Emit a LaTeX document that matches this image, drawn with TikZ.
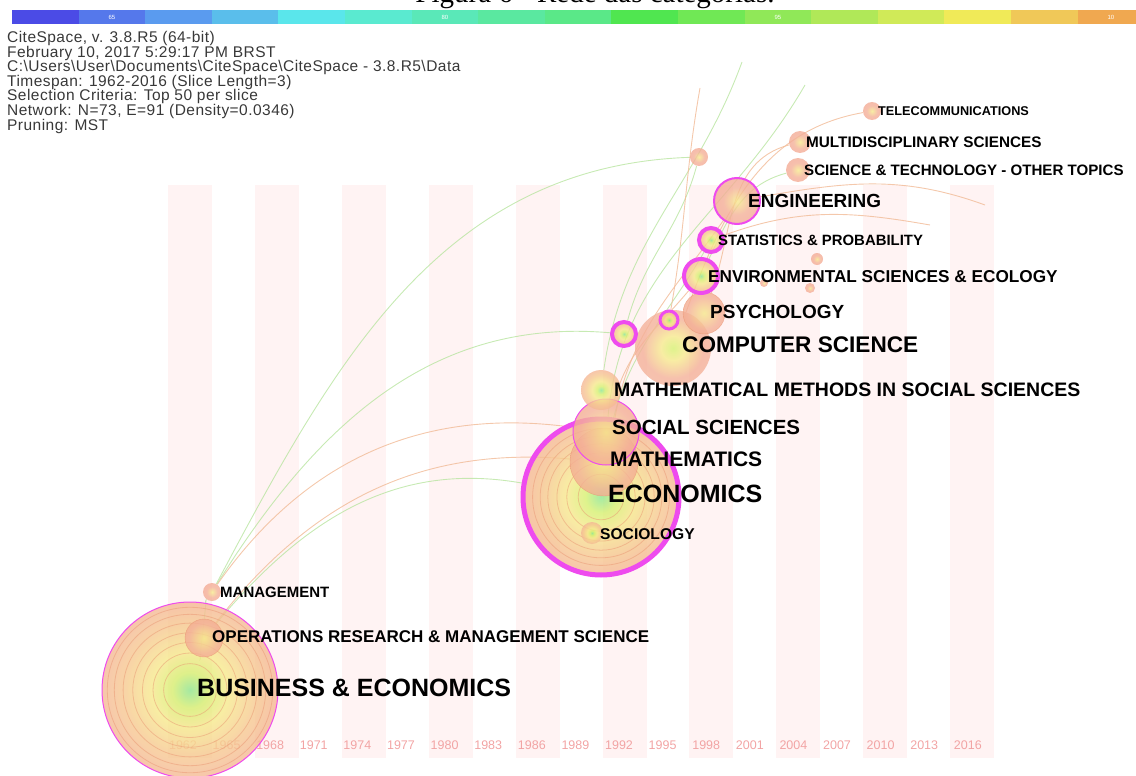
\documentclass[tikz,border=0pt]{standalone}
\usepackage{fontspec}
\setmainfont{Liberation Sans}
\newfontfamily\capfont{Liberation Serif}
\newfontfamily\infofont[LetterSpace=3]{Liberation Sans}
\usetikzlibrary{positioning}

\definecolor{bandpink}{HTML}{FFF3F3}
\definecolor{yearpink}{HTML}{F2A4A4}
\definecolor{hubpink}{HTML}{EE4BEE}
\definecolor{ringline}{HTML}{E8906E}
\definecolor{infogray}{HTML}{383838}
\definecolor{linkgreen}{HTML}{BDE6A6}
\definecolor{linkorange}{HTML}{F2BE9C}
\definecolor{ngreen}{HTML}{8EE68E}
\definecolor{nlime}{HTML}{D6F070}
\definecolor{nyellow}{HTML}{F6E88C}
\definecolor{namber}{HTML}{F6C890}
\definecolor{npeach}{HTML}{F4B098}
\definecolor{nsalmon}{HTML}{F2A090}
\definecolor{nrose}{HTML}{F5B5A8}
\definecolor{norange}{HTML}{F0A070}
\definecolor{npale}{HTML}{F6BCAA}

\pgfdeclareradialshading{treering}{\pgfpoint{0bp}{0bp}}{color(0bp)=(ngreen); color(5bp)=(nlime); color(11bp)=(nyellow); color(19bp)=(namber); color(28bp)=(npeach); color(40bp)=(nsalmon); color(50bp)=(nrose)}
\pgfdeclareradialshading{peachring}{\pgfpoint{0bp}{0bp}}{color(0bp)=(nyellow); color(15bp)=(npeach); color(50bp)=(nsalmon)}
\pgfdeclareradialshading{orangering}{\pgfpoint{0bp}{0bp}}{color(0bp)=(nyellow); color(20bp)=(npeach); color(50bp)=(norange)}
\pgfdeclareradialshading{paleing}{\pgfpoint{0bp}{0bp}}{color(0bp)=(nlime); color(8bp)=(nyellow); color(20bp)=(npeach); color(50bp)=(npale)}

\pgfdeclarelayer{bg}
\pgfsetlayers{bg,main}

\newcommand\fsz[1]{\fontsize{#1}{#1}\selectfont}

\begin{document}
\begin{tikzpicture}[x=1pt,y=-1pt,
    cat/.style={circle,inner sep=0pt,shade,shading=treering,fill opacity=0.8,minimum size=#1},
    catp/.style={cat=#1,shading=peachring},
    cato/.style={cat=#1,shading=orangering,draw=ringline,draw opacity=0.6},
    hub/.style={draw=hubpink,draw opacity=1,line width=#1},
    ring/.style={ringline,line width=0.8pt,opacity=0.45},
    lbl/.style={inner sep=0pt,anchor=west,text=black,font=\bfseries\fsz{#1}},
    yearlbl/.style={text=yearpink,font=\fsz{12.5}},
    info/.style={anchor=base west,inner sep=0pt,text=infogray,font=\infofont\fsz{15.5}},
    linkg/.style={linkgreen,line width=0.9pt,opacity=0.85},
    linko/.style={linkorange,line width=0.9pt,opacity=0.85}]
  \useasboundingbox (0,0) rectangle (1136,776);
  \clip (0,0) rectangle (1136,776);

  % time slices
  \begin{pgfonlayer}{bg}
    \foreach \k in {0,...,9}
      \fill[bandpink] (168+86.9*\k,185) rectangle ++(44,573);
    \foreach \yr [count=\i from 0] in {1962,1965,...,2016}
      \node[yearlbl] (y\yr) at (183+43.6*\i,745) {\yr};
  \end{pgfonlayer}

  % categories
  \node[cat=176,hub=1pt] (bus) at (190,690) {};
  \foreach \f in {0.3,0.42,0.54,0.65,0.76,0.86,0.94}
    \draw[ring] (bus.center) circle[radius=\f*88];
  \node[cato=38] (ops) at (204,638) {};
  \node[catp=18] (mgmt) at (212,592) {};

  \node[cat=156,hub=5pt] (econ) at (601,497) {};
  \foreach \f in {0.3,0.45,0.58,0.7,0.8,0.9}
    \draw[ring] (econ.center) circle[radius=\f*76];
  \node[cato=68] (math) at (604,462) {};
  \node[cato=66,hub=1pt] (soc) at (606,432) {};
  \node[cat=40] (mmss) at (601,390) {};
  \node[cat=22] (socio) at (592,533) {};

  \node[cat=76,shading=paleing] (comp) at (673,348) {};
  \node[cat=24,hub=4pt] (hubA) at (624,334) {};
  \node[cat=18,hub=3pt] (hubB) at (669,320) {};
  \node[cato=42] (psy) at (704,313) {};
  \node[cat=34,hub=4pt] (env) at (701,276) {};
  \node[cat=24,hub=4pt] (stat) at (711,240) {};
  \node[catp=46,hub=2pt] (eng) at (737,201) {};
  \node[catp=24] (sci) at (798,170) {};
  \node[catp=22] (multi) at (800,142) {};
  \node[catp=18] (tele) at (872,111) {};
  \node[catp=18] (misc) at (699,157) {};
  \node[catp=12] (dotA) at (817,259) {};
  \node[catp=10] (dotB) at (810,288) {};
  \node[catp=8] (dotC) at (764,283) {};

  % labels
  \node[lbl=25,right=7pt of bus.center,yshift=2pt] (busl) {BUSINESS \& ECONOMICS};
  \node[lbl=17,right=8pt of ops.center,yshift=1pt] (opsl) {OPERATIONS RESEARCH \& MANAGEMENT SCIENCE};
  \node[lbl=15,right=8pt of mgmt.center] (mgmtl) {MANAGEMENT};
  \node[lbl=25,right=7pt of econ.center,yshift=3pt] (econl) {ECONOMICS};
  \node[lbl=21,right=6pt of math.center,yshift=3pt] (mathl) {MATHEMATICS};
  \node[lbl=20.5,right=6pt of soc.center,yshift=5pt] (socl) {SOCIAL SCIENCES};
  \node[lbl=19.5,right=13pt of mmss.center] (mmssl) {MATHEMATICAL METHODS IN SOCIAL SCIENCES};
  \node[lbl=15.6,right=8pt of socio.center,yshift=-1pt] (sociol) {SOCIOLOGY};
  \node[lbl=22.6,right=9pt of comp.center,yshift=3pt] (compl) {COMPUTER SCIENCE};
  \node[lbl=19,right=6pt of psy.center,yshift=1pt] (psyl) {PSYCHOLOGY};
  \node[lbl=17.2,right=7pt of env.center,yshift=-1pt] (envl) {ENVIRONMENTAL SCIENCES \& ECOLOGY};
  \node[lbl=14.9,right=7pt of stat.center] (statl) {STATISTICS \& PROBABILITY};
  \node[lbl=19,right=11pt of eng.center] (engl) {ENGINEERING};
  \node[lbl=15.1,right=6pt of sci.center] (scil) {SCIENCE \& TECHNOLOGY - OTHER TOPICS};
  \node[lbl=15.3,right=6pt of multi.center] (multil) {MULTIDISCIPLINARY SCIENCES};
  \node[lbl=12.7,right=6pt of tele.center] (telel) {TELECOMMUNICATIONS};

  % links
  \coordinate (tailA) at (985,205);
  \coordinate (tailB) at (930,225);
  \coordinate (tailC) at (742,62);
  \coordinate (tailD) at (700,88);
  \coordinate (tailE) at (805,85);
  \begin{pgfonlayer}{bg}
    \draw[linkg] (mgmt) to[out=62,in=182] (misc);
    \draw[linkg] (mgmt) to[out=58,in=175] (hubA);
    \draw[linko] (mgmt) to[out=55,in=172] (soc);
    \draw[linkg] (ops) to[out=50,in=170] (econ);
    \draw[linko] (ops) to[out=52,in=175] (math);
    \draw[linkg] (bus) to[out=80,in=-100] (ops);
    \draw[linko] (econ) to[out=80,in=235] (eng);
    \draw[linkg] (math) to[out=78,in=240] (stat);
    \draw[linko] (soc) to[out=75,in=230] (env);
    \draw[linko] (comp) to[out=70,in=190] (tele);
    \draw[linko] (psy) to[out=70,in=195] (multi);
    \draw[linkg] (env) to[out=65,in=195] (sci);
    \draw[linkg] (hubA) to[out=75,in=255] (misc);
    \draw[linko] (eng) to[out=10,in=160] (tailA);
    \draw[linko] (stat) to[out=20,in=170] (tailB);
    \draw[linkg] (mmss) to[out=82,in=250] (tailC);
    \draw[linko] (hubB) to[out=80,in=260] (tailD);
    \draw[linkg] (econ) to[out=85,in=240] (tailE);
  \end{pgfonlayer}

  % run info
  \foreach \txt [count=\i from 0] in {{CiteSpace, v. 3.8.R5 (64-bit)},
      {February 10, 2017 5:29:17 PM BRST},
      {C:\textbackslash{}Users\textbackslash{}User\textbackslash{}Documents\textbackslash{}CiteSpace\textbackslash{}CiteSpace - 3.8.R5\textbackslash{}Data},
      {Timespan: 1962-2016 (Slice Length=3)},
      {Selection Criteria: Top 50 per slice},
      {Network: N=73, E=91 (Density=0.0346)},
      {Pruning: MST}}
    \node[info] (info\i) at (7,43+14.5*\i) {\txt};

  % colour bar
  \foreach \c [count=\i from 0] in {4B4BE6,5578EB,5A9BEF,5ABEEB,5AE6EB,5AEAD0,5AE8B8,5AE8A0,5AE888,50E650,70E855,90E858,B0E858,D0EA58,F0EA58,F0C858,F0A850}{
    \definecolor{barcol}{HTML}{\c}
    \fill[barcol] (12+66.6*\i,10) rectangle ++(67,14);
  }
  \foreach \i/\t in {1/65,6/80,11/95,16/10}
    \node[text=white,font=\fsz{6}] (bar\i) at (45.3+66.6*\i,17) {\t};

  \node[font=\capfont\fsz{29},anchor=base] (capt) at (595,3) {Figura 6 - Rede das categorias.};
\end{tikzpicture}
\end{document}
